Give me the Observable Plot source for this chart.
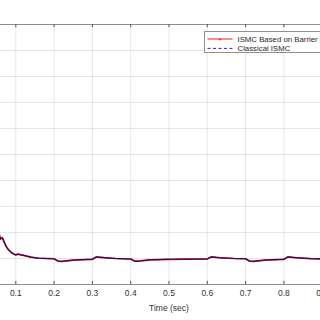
<!DOCTYPE html>
<html><head><meta charset="utf-8">
<script src="https://cdn.jsdelivr.net/npm/d3@7"></script>
<script src="https://cdn.jsdelivr.net/npm/@observablehq/plot@0.6"></script>
<style>
html,body{margin:0;padding:0;background:#fff;}
#wrap{position:relative;width:320px;height:320px;overflow:hidden;font-family:"Liberation Sans",Arial,sans-serif;}
#chart{position:absolute;left:-63px;top:0;width:433px;height:320px;}
#chart svg{max-width:none !important;}
#legend{position:absolute;left:204px;top:31px;width:140px;height:20px;border:1px solid #8f8f8f;background:#fff;}
</style></head><body>
<div id="wrap"><div id="chart"></div><div id="legend"></div></div>
<script>
const time = [0, 0.02, 0.04, 0.055, 0.06, 0.065, 0.07, 0.075, 0.08, 0.09, 0.1, 0.105, 0.12, 0.14, 0.16, 0.18, 0.2, 0.21, 0.22, 0.25, 0.28, 0.3, 0.31, 0.33, 0.36, 0.4, 0.41, 0.42, 0.45, 0.5, 0.55, 0.6, 0.61, 0.63, 0.67, 0.7, 0.71, 0.72, 0.75, 0.8, 0.81, 0.83, 0.87, 0.9, 0.95, 1.0];
const barrierISMC = [9.6, 6.0, 3.2, 2.0, 1.75, 1.8, 1.62, 1.46, 1.35, 1.21, 1.13, 1.17, 1.12, 1.05, 1.01, 1.0, 0.99, 0.9, 0.89, 0.94, 0.96, 0.97, 1.06, 1.03, 1.0, 0.98, 0.9, 0.9, 0.95, 0.97, 0.975, 0.98, 1.06, 1.03, 1.0, 0.99, 0.9, 0.89, 0.94, 0.97, 1.06, 1.03, 0.995, 0.98, 0.98, 0.98];
const classicalISMC = [9.6, 6.0, 3.2, 2.0, 1.75, 1.8, 1.62, 1.46, 1.35, 1.21, 1.13, 1.17, 1.12, 1.05, 1.01, 1.0, 0.99, 0.9, 0.89, 0.94, 0.96, 0.97, 1.06, 1.03, 1.0, 0.98, 0.9, 0.9, 0.95, 0.97, 0.975, 0.98, 1.06, 1.03, 1.0, 0.99, 0.9, 0.89, 0.94, 0.97, 1.06, 1.03, 0.995, 0.98, 0.98, 0.98];
const xTicks = [0, 0.1, 0.2, 0.3, 0.4, 0.5, 0.6, 0.7, 0.8, 0.9, 1];
const xTickLabels = [0.1, 0.2, 0.3, 0.4, 0.5, 0.6, 0.7, 0.8, 0.9];
const yTicks = [0, 1, 2, 3, 4, 5, 6, 7, 8, 9, 10];
const seriesNames = ["ISMC Based on Barrier", "Classical ISMC"];
const seriesColors = ["#ff0000", "#0000ff"];
const xLabel = "Time (sec)";

const font = "'Liberation Sans', Arial, sans-serif";
const rows1 = time.map((t, i) => ({t, v: barrierISMC[i]}));
const rows2 = time.map((t, i) => ({t, v: classicalISMC[i]}));

const chart = Plot.plot({
  width: 433, height: 320,
  marginLeft: 40, marginRight: 10, marginTop: 24, marginBottom: 36,
  x: {domain: [0, 1], axis: null},
  y: {domain: [0, 10], axis: null},
  style: {fontFamily: font, fontSize: "8.5px", color: "#262626", background: "white", overflow: "visible"},
  marks: [
    Plot.gridX(xTicks, {stroke: "#262626", strokeOpacity: 0.11}),
    Plot.gridY(yTicks, {stroke: "#262626", strokeOpacity: 0.11}),
    Plot.ruleY([0, 10], {stroke: "#8f8f8f"}),
    Plot.ruleX([0, 1], {stroke: "#8f8f8f"}),
    Plot.ruleX(xTicks, {y1: 0, y2: 0.12, stroke: "#555"}),
    Plot.ruleX(xTicks, {y1: 9.88, y2: 10, stroke: "#555"}),
    Plot.axisX(xTickLabels, {tickSize: 0, tickPadding: 5, tickFormat: d => String(+d.toFixed(1)), fill: "#333",
      label: xLabel, labelAnchor: "center", labelArrow: "none", labelOffset: 26, fontSize: "8.5px"}),
    Plot.line(rows1, {x: "t", y: "v", stroke: "#e0102a", strokeWidth: 1.7, clip: true}),
    Plot.line(rows2, {x: "t", y: "v", stroke: "#14105e", strokeWidth: 1.2, strokeDasharray: "2,1", strokeOpacity: 0.9, clip: true})
  ]
});
document.getElementById("chart").append(chart);

// legend
const leg = d3.select("#legend").append("svg").attr("width", 140).attr("height", 20)
  .style("font-family", font).style("font-size", "7.8px");
seriesNames.forEach((name, i) => {
  const y = 7 + i * 9.4;
  leg.append("line").attr("x1", 2.5).attr("x2", 27.5).attr("y1", y).attr("y2", y)
    .attr("stroke", seriesColors[i]).attr("stroke-width", 0.9)
    .attr("stroke-dasharray", i === 1 ? "3,2.5" : null);
  if (i === 0) {
    leg.append("text").attr("x", 15).attr("y", y).attr("dy", "0.32em").attr("text-anchor", "middle")
      .attr("fill", seriesColors[i]).style("font-size", "6px").text("+");
  }
  leg.append("text").attr("x", 32.5).attr("y", y).attr("dy", "0.35em").attr("fill", "#262626").text(name);
});
</script>
</body></html>
